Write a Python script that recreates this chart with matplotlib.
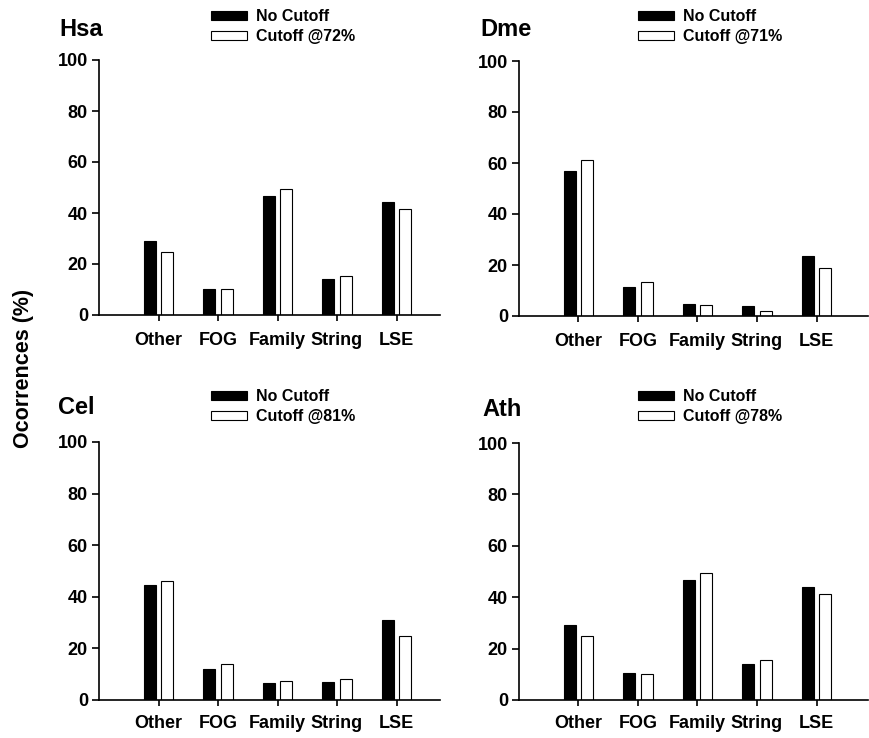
import numpy as np
import matplotlib
matplotlib.use("Agg")
import matplotlib.pyplot as plt
from matplotlib.patches import Patch

plt.rcParams["font.family"] = ["Liberation Sans", "DejaVu Sans"]

categories = ["Other", "FOG", "Family", "String", "LSE"]
species = ["Hsa", "Dme", "Cel", "Ath"]
cutoffs = ["72%", "71%", "81%", "78%"]

hsa_no = [29.1, 10.1, 46.7, 14.0, 44.2]
hsa_cut = [24.8, 10.0, 49.3, 15.3, 41.5]
dme_no = [56.9, 11.5, 4.7, 3.9, 23.6]
dme_cut = [61.2, 13.5, 4.5, 1.8, 18.9]
cel_no = [44.6, 11.9, 6.4, 6.8, 31.0]
cel_cut = [46.2, 13.8, 7.5, 8.0, 24.8]
ath_no = [29.2, 10.5, 46.5, 14.2, 44.1]
ath_cut = [25.0, 10.3, 49.3, 15.6, 41.3]

no_cut = [hsa_no, dme_no, cel_no, ath_no]
with_cut = [hsa_cut, dme_cut, cel_cut, ath_cut]

W, H = 870, 738
fig = plt.figure(figsize=(W / 100, H / 100), dpi=100)

# axes boxes in pixels: left, zero-line y, top y, right
boxes = [(99, 315, 60, 440), (519, 316, 61, 868),
         (99, 700, 442, 440), (519, 700, 443, 868)]
xpads = [8, 8, 6.5, 6.5]
titles_xy = [(59, 30), (480, 30), (58, 408), (482, 410)]
legend_xy = [(211, 9), (638, 9), (211, 389), (638, 389)]

x = np.arange(1, len(categories) + 1)
bw = 0.2
for i, (l, z, t, r) in enumerate(boxes):
    ax = fig.add_axes([l / W, 1 - z / H, (r - l) / W, (z - t) / H])
    ax.bar(x - 0.15, no_cut[i], bw, color="black", edgecolor="black", lw=0.8)
    ax.bar(x + 0.15, with_cut[i], bw, color="white", edgecolor="black", lw=0.8)
    ax.set_xlim(0, (r - l) / 59.5)
    ax.set_ylim(0, 100)
    ax.set_yticks([0, 20, 40, 60, 80, 100])
    ax.set_xticks(x)
    ax.set_xticklabels(categories)
    for s in ["top", "right"]:
        ax.spines[s].set_visible(False)
    for s in ["left", "bottom"]:
        ax.spines[s].set_linewidth(1.2)
    ax.tick_params(axis="y", direction="out", length=5, width=1.2,
                   labelsize=13, pad=3)
    ax.tick_params(axis="x", direction="out", length=4, width=1.2,
                   labelsize=13, pad=xpads[i])
    for lab in ax.get_xticklabels() + ax.get_yticklabels():
        lab.set_fontweight("bold")

    tx, ty = titles_xy[i]
    fig.text(tx / W, 1 - ty / H, species[i], fontsize=17, fontweight="bold",
             ha="left", va="center")

    handles = [Patch(facecolor="black", edgecolor="black", lw=0.8),
               Patch(facecolor="white", edgecolor="black", lw=0.8)]
    lx, ly = legend_xy[i]
    ax.legend(handles, ["No Cutoff", "Cutoff @" + cutoffs[i]],
              loc="upper left", bbox_to_anchor=(lx / W, 1 - ly / H),
              bbox_transform=fig.transFigure, frameon=False,
              prop={"size": 11.5, "weight": "bold"}, handlelength=2.25,
              handleheight=0.5, handletextpad=0.55, labelspacing=0.3,
              borderpad=0, borderaxespad=0)

fig.text(24 / W, 1 - 368 / H, "Ocorrences (%)", rotation=90, fontsize=15.5,
         fontweight="bold", ha="center", va="center")

fig.savefig("out.png", dpi=100)
